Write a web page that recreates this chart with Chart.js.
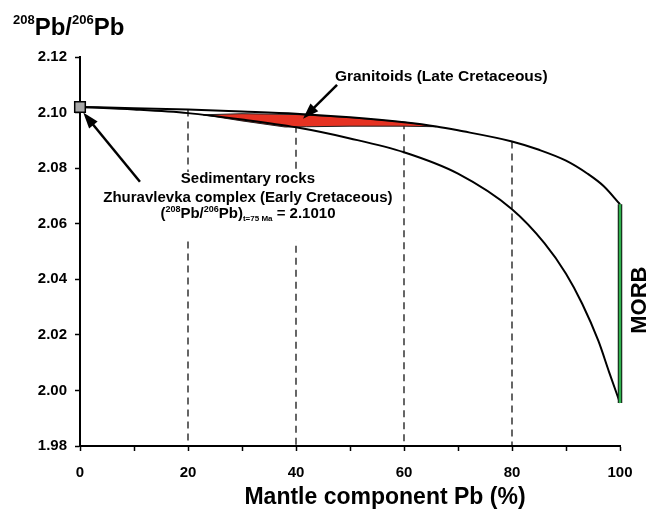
<!DOCTYPE html>
<html>
<head>
<meta charset="utf-8">
<script src="https://cdn.jsdelivr.net/npm/chart.js@4.4.1/dist/chart.umd.min.js"></script>
<style>
  html, body { margin: 0; padding: 0; background: #fff; }
  canvas { display: block; }
</style>
</head>
<body>
<canvas id="mixChart" width="649" height="509"></canvas>
<script>
// mixing curves (mantle component %, 208Pb/206Pb)
const upperX = [0, 10, 20, 30, 40, 50, 60, 66, 70, 80, 85, 90, 94, 97, 100];
const upperY = [2.1020, 2.1016, 2.1011, 2.1004, 2.0996, 2.0983, 2.0965, 2.0950, 2.0936, 2.0896, 2.0866, 2.0827, 2.0780, 2.0735, 2.0670];
const lowerX = [0, 10, 20, 30, 40, 50, 60, 70, 80, 86, 90, 93, 96, 98, 100];
const lowerY = [2.1020, 2.1011, 2.0998, 2.0975, 2.0947, 2.0907, 2.0857, 2.0780, 2.0652, 2.0530, 2.0420, 2.0312, 2.0178, 2.0065, 1.9955];

// granitoid field outline (closed)
const graniteX = [22.8, 30, 40, 50, 60, 66, 60, 50, 42, 38, 30, 22.8];
const graniteY = [2.0992, 2.0996, 2.0993, 2.0982, 2.0966, 2.0949, 2.0951, 2.0951, 2.0949, 2.0948, 2.0970, 2.0992];

// dashed verticals
const dashX = [20, 40, 60, 80];
const dashTopY = [2.1011, 2.0996, 2.0965, 2.0896];

// MORB range and sediment point
const morbX = 100;
const morbY = [2.067, 1.9955];
const sedX = 0;
const sedY = 2.102;

// axes
const yMin = 1.98, yMax = 2.12, yStep = 0.02;
const xMin = 0, xMax = 100, xStep = 10, xLabelStep = 20;

const FONT = "'Liberation Sans', Arial, sans-serif";

const pts = (xs, ys) => xs.map((x, i) => ({ x: x, y: ys[i] }));

const datasets = [
    {
        data: [{ x: sedX, y: sedY }],
        pointStyle: 'rect', pointRadius: 7.5,
        pointBackgroundColor: '#a8a8a8', pointBorderColor: '#000', pointBorderWidth: 1.5,
        showLine: false, clip: false
    },
    {
        data: pts([morbX, morbX], morbY),
        borderColor: '#2fb14d', borderWidth: 2.5, pointRadius: 0, clip: false
    },
    {
        data: pts([morbX, morbX], morbY),
        borderColor: '#111', borderWidth: 4.5, pointRadius: 0, clip: false
    },
    {
        data: pts(upperX, upperY),
        borderColor: '#000', borderWidth: 2, pointRadius: 0,
        cubicInterpolationMode: 'monotone', clip: false
    },
    {
        data: pts(lowerX, lowerY),
        borderColor: '#000', borderWidth: 2, pointRadius: 0,
        cubicInterpolationMode: 'monotone', clip: false
    },
    {
        data: pts(graniteX, graniteY),
        borderColor: '#222', borderWidth: 1, pointRadius: 0,
        backgroundColor: '#e63222', fill: 'shape', tension: 0
    }
];
dashX.forEach((x, i) => {
    datasets.push({
        data: [{ x: x, y: dashTopY[i] }, { x: x, y: yMin }],
        borderColor: '#000', borderWidth: 1.2, borderDash: [7, 5], pointRadius: 0
    });
});

// draw a run of text pieces (super/subscripts) starting at x
function richWidth(ctx, parts) {
    let w = 0;
    parts.forEach(p => { ctx.font = 'bold ' + p[1] + 'px ' + FONT; w += ctx.measureText(p[0]).width; });
    return w;
}
function drawRich(ctx, parts, x, base) {
    parts.forEach(p => {
        ctx.font = 'bold ' + p[1] + 'px ' + FONT;
        ctx.fillText(p[0], x, base + p[2]);
        x += ctx.measureText(p[0]).width;
    });
}
function arrow(ctx, x1, y1, x2, y2) {
    const a = Math.atan2(y2 - y1, x2 - x1);
    const len = 16, half = 5.5;
    ctx.beginPath();
    ctx.moveTo(x1, y1);
    ctx.lineTo(x2 - Math.cos(a) * len * 0.8, y2 - Math.sin(a) * len * 0.8);
    ctx.lineWidth = 2.5;
    ctx.strokeStyle = '#000';
    ctx.stroke();
    ctx.beginPath();
    ctx.moveTo(x2, y2);
    ctx.lineTo(x2 - Math.cos(a) * len - Math.sin(a) * half, y2 - Math.sin(a) * len + Math.cos(a) * half);
    ctx.lineTo(x2 - Math.cos(a) * len + Math.sin(a) * half, y2 - Math.sin(a) * len - Math.cos(a) * half);
    ctx.closePath();
    ctx.fillStyle = '#000';
    ctx.fill();
}

const labelsPlugin = {
    id: 'labels',
    afterDatasetsDraw(chart) {
        const ctx = chart.ctx;
        const sx = chart.scales.x, sy = chart.scales.y;
        const px = v => sx.getPixelForValue(v), py = v => sy.getPixelForValue(v);
        ctx.save();
        ctx.fillStyle = '#000';
        ctx.textBaseline = 'alphabetic';

        // sediment label, white behind it
        const cx = px(31.1);
        ctx.fillStyle = '#fff';
        ctx.fillRect(px(2.9), py(2.0786), px(59.2) - px(2.9), py(2.0538) - py(2.0786));
        ctx.fillStyle = '#000';
        ctx.textAlign = 'center';
        ctx.font = 'bold 15px ' + FONT;
        ctx.fillText('Sedimentary rocks', cx, py(2.0747));
        ctx.fillText('Zhuravlevka complex (Early Cretaceous)', cx, py(2.0679));
        ctx.textAlign = 'left';
        const line3 = [['(', 15, 0], ['208', 9, -6], ['Pb/', 15, 0], ['206', 9, -6], ['Pb)', 15, 0],
                       ['t=75 Ma', 8, 3], [' = 2.1010', 15, 0]];
        drawRich(ctx, line3, cx - richWidth(ctx, line3) / 2, py(2.0621));

        // granitoids label
        ctx.font = 'bold 15.5px ' + FONT;
        ctx.fillText('Granitoids (Late Cretaceous)', px(47.2), py(2.1114));

        // arrows
        arrow(ctx, px(11.1), py(2.0751), px(0.6), py(2.1000));
        arrow(ctx, px(47.6), py(2.1100), px(41.3), py(2.0978));

        // MORB label
        ctx.save();
        ctx.translate(px(103.6), py(2.0325));
        ctx.rotate(-Math.PI / 2);
        ctx.textAlign = 'center';
        ctx.textBaseline = 'middle';
        ctx.font = 'bold 22px ' + FONT;
        ctx.fillText('MORB', 0, 0);
        ctx.restore();

        // axis titles
        ctx.textAlign = 'left';
        const yTitle = [['208', 13, -11], ['Pb/', 24, 0], ['206', 13, -11], ['Pb', 24, 0]];
        drawRich(ctx, yTitle, 13, 35);
        ctx.textAlign = 'center';
        ctx.font = 'bold 23px ' + FONT;
        ctx.fillText('Mantle component Pb (%)', 385, 504);
        ctx.restore();
    }
};

new Chart(document.getElementById('mixChart'), {
    type: 'line',
    data: { datasets: datasets },
    options: {
        responsive: false,
        animation: false,
        layout: { padding: { top: 57, right: 29, left: 0, bottom: 0 } },
        plugins: { legend: { display: false }, tooltip: { enabled: false } },
        scales: {
            x: {
                type: 'linear', min: xMin, max: xMax,
                afterFit: s => { s.height = 63; },
                border: { color: '#000', width: 2 },
                grid: { drawOnChartArea: false, tickLength: 5, tickWidth: 1.5, color: '#000' },
                ticks: {
                    stepSize: xStep, autoSkip: false, maxRotation: 0, padding: 13,
                    color: '#000', font: { family: FONT, size: 15, weight: 'bold' },
                    callback: v => (v % xLabelStep === 0 ? String(v) : '')
                }
            },
            y: {
                type: 'linear', min: yMin, max: yMax,
                afterFit: s => { s.width = 80; },
                border: { color: '#000', width: 2 },
                grid: { drawOnChartArea: false, tickLength: 5, tickWidth: 1.5, color: '#000' },
                ticks: {
                    stepSize: yStep, padding: 8,
                    color: '#000', font: { family: FONT, size: 15, weight: 'bold' },
                    callback: v => v.toFixed(2)
                }
            }
        }
    },
    plugins: [labelsPlugin]
});
</script>
</body>
</html>
